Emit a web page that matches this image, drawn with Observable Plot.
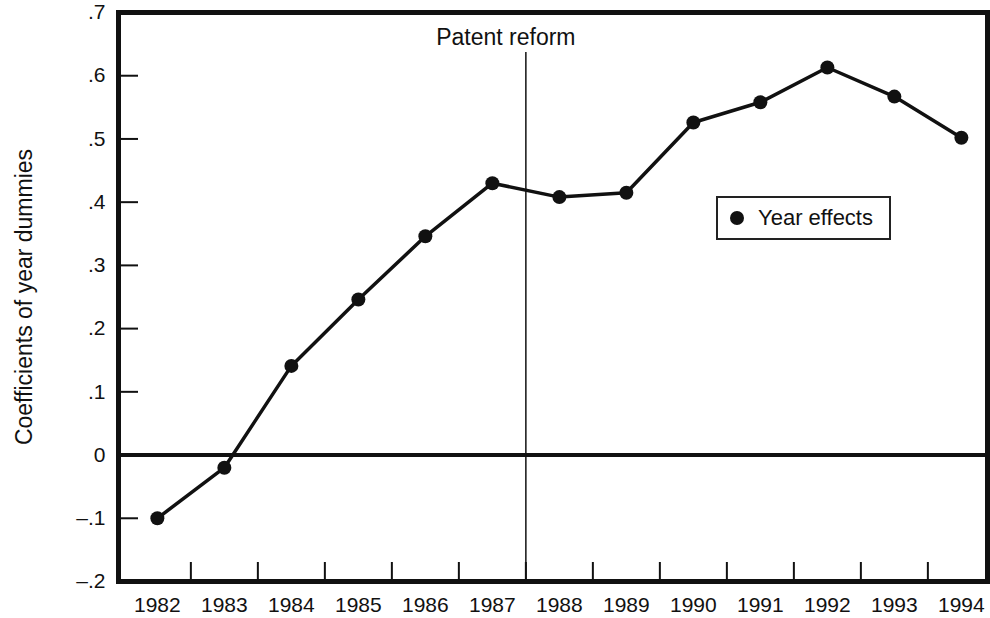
<!DOCTYPE html>
<html>
<head>
<meta charset="utf-8">
<script src="https://cdn.jsdelivr.net/npm/d3@7"></script>
<script src="https://cdn.jsdelivr.net/npm/@observablehq/plot@0.6"></script>
<style>
  html, body { margin: 0; padding: 0; background: #fff; }
  #wrap { position: relative; width: 990px; height: 618px; font-family: "Liberation Sans", Arial, sans-serif; color: #111; }
  #legend { position: absolute; left: 716px; top: 196px; width: 171px; height: 40px; border: 2px solid #222; box-sizing: content-box; }
  #legend .dot { position: absolute; left: 12px; top: 13px; width: 14px; height: 14px; border-radius: 50%; background: #111; }
  #legend .lab { position: absolute; left: 40px; top: 8px; font-size: 22px; line-height: 24px; white-space: nowrap; }
</style>
</head>
<body>
<div id="wrap"></div>
<script>
const years = [1982, 1983, 1984, 1985, 1986, 1987, 1988, 1989, 1990, 1991, 1992, 1993, 1994];
const yearEffects = [-0.10, -0.02, 0.141, 0.246, 0.346, 0.430, 0.408, 0.415, 0.526, 0.558, 0.613, 0.567, 0.502];
const halfYearTicks = [1982.5, 1983.5, 1984.5, 1985.5, 1986.5, 1987.5, 1988.5, 1989.5, 1990.5, 1991.5, 1992.5, 1993.5];
const yTicks = [0.7, 0.6, 0.5, 0.4, 0.3, 0.2, 0.1, 0, -0.1, -0.2];
const yTickLabels = [".7", ".6", ".5", ".4", ".3", ".2", ".1", "0", "\u2013.1", "\u2013.2"];
const innerYTicks = [0.6, 0.5, 0.4, 0.3, 0.2, 0.1, -0.1];
const reformYear = [1987.5];
const reformLabel = "Patent reform";
const yLabel = "Coefficients of year dummies";
const legendLabel = "Year effects";

const data = years.map((y, i) => ({year: y, value: yearEffects[i]}));

const W = 990, H = 618, mL = 118, mR = 3, mT = 12, mB = 37;
const plotW = W - mL - mR, plotH = H - mT - mB;

const chart = Plot.plot({
  width: W,
  height: H,
  marginLeft: mL,
  marginRight: mR,
  marginTop: mT,
  marginBottom: mB,
  style: {fontFamily: "'Liberation Sans', Arial, sans-serif", color: "#111", background: "#fff"},
  x: {domain: [1981.42, 1994.39]},
  y: {domain: [-0.2, 0.7]},
  marks: [
    Plot.axisX({ticks: years, tickSize: 0, tickPadding: 16, tickFormat: d => String(d), fontSize: 21, label: null}),
    Plot.axisY({ticks: yTicks, tickSize: 0, tickPadding: 13, tickFormat: d => yTickLabels[yTicks.indexOf(d)], fontSize: 21, label: null}),
    Plot.tickX(halfYearTicks, {x: d => d, insetTop: plotH - 19, strokeWidth: 2, stroke: "#111"}),
    Plot.tickY(innerYTicks, {y: d => d, insetRight: plotW - 20, strokeWidth: 2, stroke: "#111"}),
    Plot.ruleY([0], {strokeWidth: 4, stroke: "#111"}),
    Plot.ruleX(reformYear, {x: d => d, insetTop: 40, strokeWidth: 1.5, stroke: "#111"}),
    Plot.text(reformYear, {x: d => d, text: () => reformLabel, frameAnchor: "top", lineAnchor: "middle", dy: 25, dx: -20, fontSize: 23, fill: "#111"}),
    Plot.text([yLabel], {frameAnchor: "left", text: d => d, textAnchor: "middle", lineAnchor: "middle", rotate: -90, dx: -94, fontSize: 23, fill: "#111"}),
    Plot.line(data, {x: "year", y: "value", strokeWidth: 3.5, stroke: "#111"}),
    Plot.dot(data, {x: "year", y: "value", r: 7, fill: "#111"}),
    Plot.frame({strokeWidth: 5, stroke: "#111"})
  ]
});

const wrap = document.getElementById("wrap");
wrap.appendChild(chart);
const legend = document.createElement("div");
legend.id = "legend";
legend.innerHTML = `<div class="dot"></div><div class="lab"></div>`;
legend.querySelector(".lab").textContent = legendLabel;
wrap.appendChild(legend);
</script>
</body>
</html>
